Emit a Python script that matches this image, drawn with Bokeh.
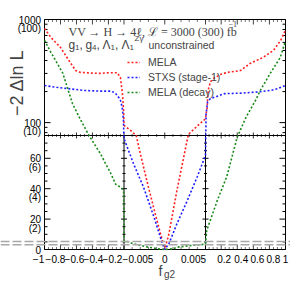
import math
import numpy as np
from bokeh.plotting import figure
from bokeh.models import (Range1d, Label, ColumnDataSource, Legend, LegendItem, Span)
from bokeh.core.properties import value
from bokeh.embed import file_html
from bokeh.resources import INLINE

# ---------------- data ----------------
# MELA (red)
mela_f = [-1.0, -0.92, -0.8, -0.76, -0.67, -0.61, -0.55, -0.4, -0.3, -0.2, -0.09, -0.05, -0.025, -0.01, -0.005,
          -0.0042, -0.0035, -0.003, -0.002, -0.001, 0.0, 0.0005, 0.0015, 0.0029, 0.004, 0.005,
          0.015, 0.026, 0.032, 0.045, 0.07, 0.105, 0.2, 0.28, 0.44, 0.56, 0.72, 0.85, 0.94, 1.0]
mela_v = [818, 670, 536, 480, 375, 320, 307, 302, 300, 305, 305, 274, 192, 131, 94,
          84, 75, 63, 41, 20, 0, 10, 39, 77, 93, 109,
          125, 140, 175, 219, 250, 268, 295, 307, 320, 375, 428, 501, 627, 790]
# STXS (stage-1) (blue)
stxs_f = [-1.0, -0.85, -0.71, -0.51, -0.3, -0.17, -0.12, -0.086, -0.05, -0.027, -0.012, -0.005,
          -0.0038, -0.0026, -0.0013, -0.0003, 0.0, 0.0005, 0.0015, 0.00275, 0.004, 0.005,
          0.012, 0.03, 0.067, 0.15, 0.24, 0.44, 0.65, 0.81, 0.9, 1.0]
stxs_v = [229, 220, 214, 205, 202, 202, 195, 183, 165, 140, 105, 73,
          56, 41, 21, 4, 0, 3.7, 17, 32, 48, 62,
          120, 158, 171, 180, 191, 193, 198, 205, 213, 229]
# MELA (decay) (green)
decay_f = [-1.0, -0.92, -0.84, -0.77, -0.71, -0.65, -0.55, -0.443, -0.3, -0.17, -0.11, -0.05, -0.027, -0.01, -0.005,
           -0.0038, -0.002, -0.001, 0.0, 0.001, 0.0015, 0.003, 0.005,
           0.02, 0.15, 0.27, 0.4, 0.51, 0.627, 0.686, 0.81, 0.935, 1.0]
decay_v = [627, 480, 375, 300, 214, 153, 107, 75, 63, 50, 43, 41, 40, 38, 6,
           3.7, 1.5, 0.6, 0, 0.5, 1.5, 2.5, 3.5,
           12.5, 32, 48, 74, 113, 164, 205, 300, 428, 620]

cl_levels = [3.2, 5.3]  # grey dashed reference lines

xtick_vals = [-1.0, -0.8, -0.6, -0.4, -0.2, -0.005, 0.0, 0.005, 0.2, 0.4, 0.6, 0.8, 1.0]
xtick_text = ["\u22121", "\u22120.8", "\u22120.6", "\u22120.4", "\u22120.2", "\u22120.005", "0",
              "0.005", "0.2", "0.4", "0.6", "0.8", "1"]
xtick_shift = [-6, -5, -2, 1, 4, 14, 0, -12, 3, 4, 4, 4, 0]  # label nudges (px)
xminor_vals = [-0.95, -0.9, -0.85, -0.75, -0.7, -0.65, -0.55, -0.5, -0.45, -0.35, -0.3, -0.25,
               -0.15, -0.1, -0.05, -0.004, -0.003, -0.002, -0.001,
               0.001, 0.002, 0.003, 0.004, 0.05, 0.1, 0.15, 0.25, 0.3, 0.35, 0.45, 0.5, 0.55,
               0.65, 0.7, 0.75, 0.85, 0.9, 0.95]
ytick_vals = [0, 20, 40, 60, 100, 1000]
ytick_text = ["0", "20", "40", "60", "100", "1000"]
ytick_text_300 = ["", "(2)", "(4)", "(6)", "(10)", "(100)"]
yminor_vals = [5, 10, 15, 25, 30, 35, 45, 50, 55, 65, 70, 80, 90,
               200, 300, 400, 500, 600, 700, 800, 900]

# ---------------- broken-axis geometry (plot units = pixels) ----------------
X_BREAKS = [-1.0, -0.005, 0.005, 1.0]
X_PIX = [0.0, 79.5, 161.0, 241.0]
Y_SPLIT, Y_TOP, H_LIN, H_LOG = 75.0, 1000.0, 114.0, 116.0


def tx(f):
    return np.interp(np.asarray(f, float), X_BREAKS, X_PIX)


def ty(v):
    v = np.asarray(v, float)
    lin = v / Y_SPLIT * H_LIN
    lg = H_LIN + np.log10(np.maximum(v, 1e-9) / Y_SPLIT) / math.log10(Y_TOP / Y_SPLIT) * H_LOG
    return np.where(v <= Y_SPLIT, lin, lg)


W, H = 290, 285
OX, OY = 44, 249  # page position of the (f=-1, value=0) corner
p = figure(width=W, height=H, x_range=Range1d(-OX, W - OX), y_range=Range1d(OY - H, OY),
           output_backend="svg", toolbar_location=None, x_axis_location=None, y_axis_location=None,
           min_border=0)
p.xgrid.visible = False
p.ygrid.visible = False
p.outline_line_color = None
p.background_fill_color = "white"
p.border_fill_color = "white"

FL, FR = float(tx(X_BREAKS[0])), float(tx(X_BREAKS[-1]))
FB, FT = float(ty(0)), float(ty(Y_TOP))
xt = tx(xtick_vals)
xm = tx(xminor_vals)
yt = ty(ytick_vals)
ym = ty(yminor_vals)
ybreak = float(ty(Y_SPLIT))
xb = [float(tx(X_BREAKS[1])), float(tx(X_BREAKS[2]))]

# grey dashed confidence levels
for lv in cl_levels:
    p.add_layout(Span(location=float(ty(lv)), dimension="width", line_color="#a8a8a8",
                      line_width=1.5, line_dash="9 3"))


def ticks_h(xs, y0, length, color):
    p.segment(x0=xs, y0=[y0] * len(xs), x1=xs, y1=[y0 + length] * len(xs), line_color=color, line_width=1)


def ticks_v(ys, x0, length, color):
    p.segment(x0=[x0] * len(ys), y0=ys, x1=[x0 + length] * len(ys), y1=ys, line_color=color, line_width=1)


# frame ticks (ROOT style: on all four sides, pointing inwards)
ticks_h(xt, FB, 5, "#444444")
ticks_h(xm, FB, 2.5, "#777777")
ticks_h(xt, FT, -5, "#444444")
ticks_h(xm, FT, -2.5, "#777777")
ticks_v(yt, FL, 6, "black")
ticks_v(ym, FL, 3, "black")
ticks_v(yt, FR, -6, "black")
ticks_v(ym, FR, -3, "black")
# ticks on the horizontal break line
p.segment(x0=xt, y0=[ybreak - 3] * len(xt), x1=xt, y1=[ybreak + 3] * len(xt), line_color="#333333")
p.segment(x0=xm, y0=[ybreak - 1.5] * len(xm), x1=xm, y1=[ybreak + 1.5] * len(xm), line_color="#666666")
# ticks on the vertical break lines (linear part)
ylin_major = [float(ty(v)) for v in ytick_vals if 0 < v < Y_SPLIT]
ylin_minor = [float(ty(v)) for v in yminor_vals if 0 < v < Y_SPLIT]
for xv in xb:
    p.segment(x0=[xv - 3] * len(ylin_major), y0=ylin_major, x1=[xv + 3] * len(ylin_major), y1=ylin_major,
              line_color="black")
    p.segment(x0=[xv - 1.5] * len(ylin_minor), y0=ylin_minor, x1=[xv + 1.5] * len(ylin_minor), y1=ylin_minor,
              line_color="black")

# break lines and frame
p.segment(x0=[FL], y0=[ybreak], x1=[FR], y1=[ybreak], line_color="black", line_width=1)
p.segment(x0=xb, y0=[FB, FB], x1=xb, y1=[ybreak, ybreak], line_color="black", line_width=1)
p.quad(left=FL, right=FR, bottom=FB, top=FT, fill_color=None, line_color="black", line_width=1)

# curves
r_mela = p.line(tx(mela_f), ty(mela_v), line_color="#ff2020", line_width=1.6, line_dash="2 2")
r_stxs = p.line(tx(stxs_f), ty(stxs_v), line_color="#2020ff", line_width=1.6, line_dash="2 2")
r_decay = p.line(tx(decay_f), ty(decay_v), line_color="#1a8a1a", line_width=1.6, line_dash="2 2")

legend = Legend(items=[LegendItem(label="MELA", renderers=[r_mela]),
                       LegendItem(label="STXS (stage-1)", renderers=[r_stxs]),
                       LegendItem(label="MELA (decay)", renderers=[r_decay])],
                location=(127, 187), orientation="vertical", background_fill_alpha=0,
                border_line_color=None, padding=0, margin=0, spacing=3,
                glyph_width=13, glyph_height=12, label_height=12, label_standoff=8,
                label_text_font="Liberation Sans", label_text_font_size="10.5px")
p.add_layout(legend)

# x tick labels (nudged like the original)
xsrc = ColumnDataSource(dict(x=xt, y=[FB] * len(xt), t=xtick_text, dx=xtick_shift))
p.text(x="x", y="y", text="t", x_offset="dx", y_offset=9, source=xsrc,
       text_align="center", text_baseline="middle", text_font=value("Liberation Sans"),
       text_font_size="10px", text_color="black")
# y tick labels, 3000 fb^-1 values and (300 fb^-1) values below
ysrc = ColumnDataSource(dict(x=[FL] * len(yt), y=yt, t=ytick_text, t2=ytick_text_300))
p.text(x="x", y="y", text="t", x_offset=-3.5, source=ysrc,
       text_align="right", text_baseline="middle", text_font=value("Liberation Sans"),
       text_font_size="10px", text_color="black")
p.text(x="x", y="y", text="t2", x_offset=-3.5, y_offset=9, source=ysrc,
       text_align="right", text_baseline="middle", text_font=value("Liberation Sans"),
       text_font_size="10px", text_color="black")

# axis titles
p.add_layout(Label(x=-28, y=200, text="\u22122 \u0394ln L", angle=math.pi / 2, text_align="right",
                   text_baseline="middle", text_font="Liberation Sans", text_font_size="18px"))
p.add_layout(Label(x=114, y=-21, text="f", text_align="left", text_baseline="middle",
                   text_font="Liberation Sans", text_font_size="14px"))
p.add_layout(Label(x=119.5, y=-25, text="g2", text_align="left", text_baseline="middle",
                   text_font="Liberation Sans", text_font_size="10px"))

# header texts
p.add_layout(Label(x=24, y=218, text="VV \u2192 H \u2192 4\u2113, \u2112 = 3000 (300) fb", text_align="left",
                   text_baseline="middle", text_font="Liberation Serif", text_font_size="12px"))
p.add_layout(Label(x=184, y=226, text="\u22121", text_align="left", text_baseline="middle",
                   text_font="Liberation Serif", text_font_size="8px"))
hdr2 = [("g", 24, 205, 12), ("1", 30.5, 202, 8), (",", 35, 205, 12), ("g", 41, 205, 12), ("4", 47.5, 202, 8),
        (",", 52, 205, 12), ("\u039b", 58, 205, 12), ("1", 66, 202, 8), (",", 70.5, 205, 12),
        ("\u039b", 77, 205, 12), ("1", 85, 202, 8), ("Z\u03b3", 90, 211, 8), ("unconstrained", 104, 205, 10.5)]
for t, xx, yy, fs in hdr2:
    p.add_layout(Label(x=xx, y=yy, text=t, text_align="left", text_baseline="middle",
                       text_font="Liberation Sans", text_font_size=f"{fs}px"))

open("out.html", "w").write(file_html(p, INLINE))
